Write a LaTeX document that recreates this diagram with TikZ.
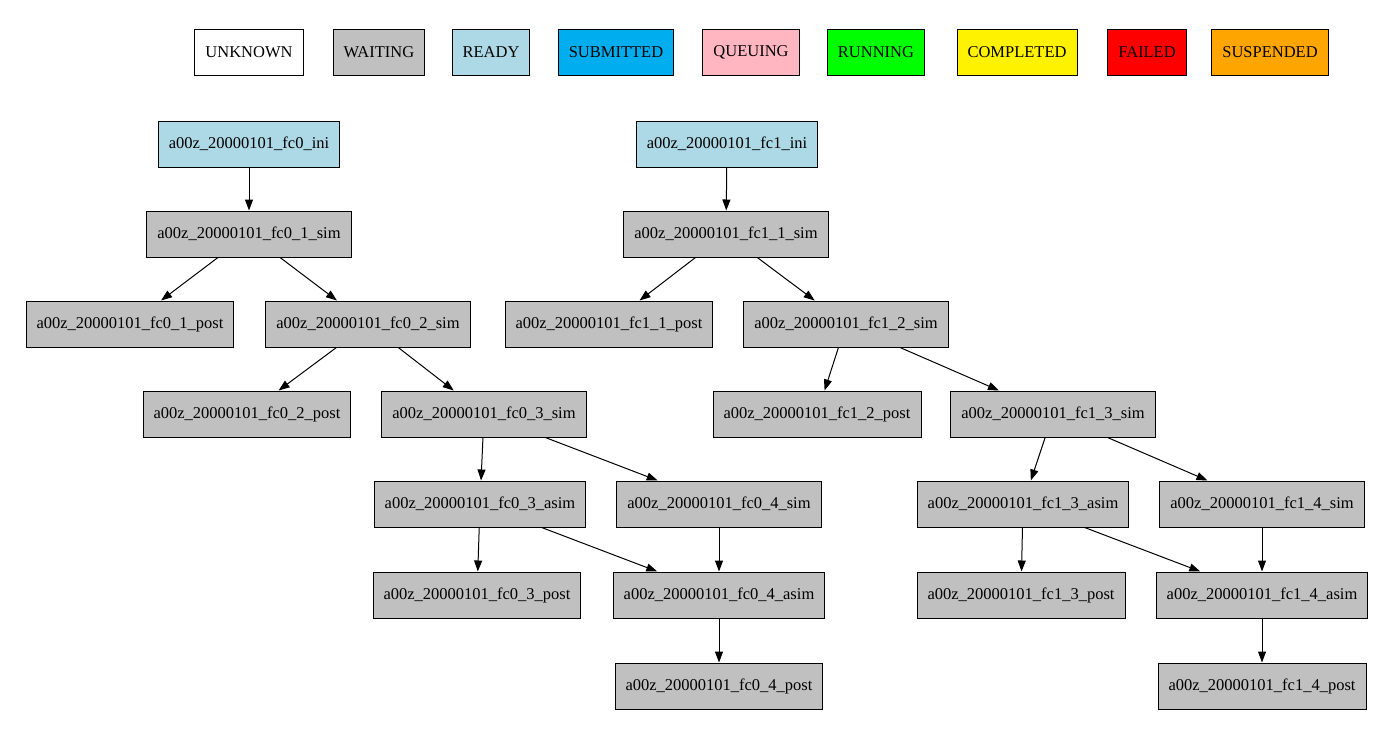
\documentclass[tikz,border=0pt]{standalone}
\usepackage{fontspec}
\setmainfont{Liberation Serif}
\usetikzlibrary{arrows.meta}
\definecolor{waitc}{HTML}{C0C0C0}
\definecolor{readyc}{HTML}{ADD8E6}
\definecolor{pinkc}{HTML}{FFB6C1}
\definecolor{orangec}{HTML}{FFA500}
\begin{document}
\begin{tikzpicture}[x=1pt,y=-1pt,
  box/.style={draw,line width=1pt,minimum height=46pt,inner xsep=10.5pt,font=\fontsize{16.5}{19}\selectfont},
  wt/.style={box,fill=waitc},
  rd/.style={box,fill=readyc},
  edge/.style={line width=1pt,-{Triangle[length=11pt,width=8pt]}}]
\useasboundingbox (0,0) rectangle (1388,729);
% legend
\node[box,fill=white] (lu) at (249,52) {UNKNOWN};
\node[wt] (lw) at (379,52) {WAITING};
\node[rd] (lr) at (491,52) {READY};
\node[box,fill=cyan] (ls) at (616,52) {SUBMITTED};
\node[box,fill=pinkc] (lq) at (751,52) {QUEUING};
\node[box,fill=green] (lrun) at (876,52) {RUNNING};
\node[box,fill=yellow] (lc) at (1017,52) {COMPLETED};
\node[box,fill=red] (lf) at (1147,52) {FAILED};
\node[box,fill=orangec] (lsu) at (1270,52) {SUSPENDED};
% fc0
\node[rd] (a0) at (249,144) {a00z\_20000101\_fc0\_ini};
\node[wt] (a1s) at (249,234) {a00z\_20000101\_fc0\_1\_sim};
\node[wt] (a1p) at (130,324) {a00z\_20000101\_fc0\_1\_post};
\node[wt] (a2s) at (368,324) {a00z\_20000101\_fc0\_2\_sim};
\node[wt] (a2p) at (247,414) {a00z\_20000101\_fc0\_2\_post};
\node[wt] (a3s) at (484,414) {a00z\_20000101\_fc0\_3\_sim};
\node[wt] (a3a) at (480,504) {a00z\_20000101\_fc0\_3\_asim};
\node[wt] (a4s) at (719,504) {a00z\_20000101\_fc0\_4\_sim};
\node[wt] (a3p) at (477,595) {a00z\_20000101\_fc0\_3\_post};
\node[wt] (a4a) at (719,595) {a00z\_20000101\_fc0\_4\_asim};
\node[wt] (a4p) at (719,686) {a00z\_20000101\_fc0\_4\_post};
% fc1
\node[rd] (b0) at (727,144) {a00z\_20000101\_fc1\_ini};
\node[wt] (b1s) at (726,234) {a00z\_20000101\_fc1\_1\_sim};
\node[wt] (b1p) at (609,324) {a00z\_20000101\_fc1\_1\_post};
\node[wt] (b2s) at (846,324) {a00z\_20000101\_fc1\_2\_sim};
\node[wt] (b2p) at (817,414) {a00z\_20000101\_fc1\_2\_post};
\node[wt] (b3s) at (1053,414) {a00z\_20000101\_fc1\_3\_sim};
\node[wt] (b3a) at (1023,504) {a00z\_20000101\_fc1\_3\_asim};
\node[wt] (b4s) at (1262,504) {a00z\_20000101\_fc1\_4\_sim};
\node[wt] (b3p) at (1021,595) {a00z\_20000101\_fc1\_3\_post};
\node[wt] (b4a) at (1262,595) {a00z\_20000101\_fc1\_4\_asim};
\node[wt] (b4p) at (1262,686) {a00z\_20000101\_fc1\_4\_post};
\foreach \p in {a,b}{
  \draw[edge] (\p0) -- (\p1s);
  \draw[edge] (\p1s) -- (\p1p);
  \draw[edge] (\p1s) -- (\p2s);
  \draw[edge] (\p2s) -- (\p2p);
  \draw[edge] (\p2s) -- (\p3s);
  \draw[edge] (\p3s) -- (\p3a);
  \draw[edge] (\p3s) -- (\p4s);
  \draw[edge] (\p3a) -- (\p3p);
  \draw[edge] (\p3a) -- (\p4a);
  \draw[edge] (\p4s) -- (\p4a);
  \draw[edge] (\p4a) -- (\p4p);
}
\end{tikzpicture}
\end{document}
